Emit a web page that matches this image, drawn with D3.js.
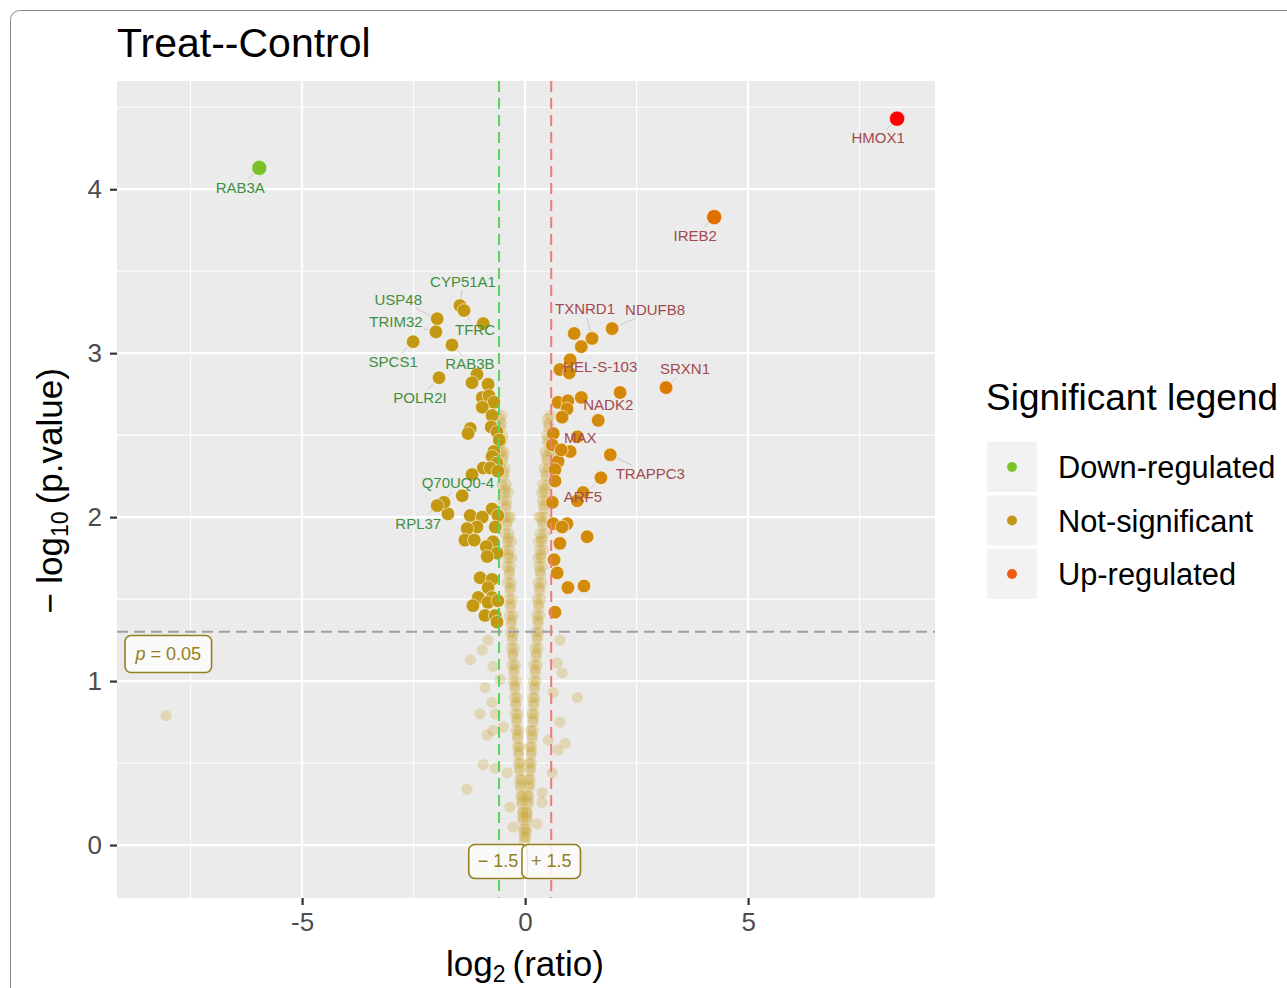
<!DOCTYPE html>
<html lang="en">
<head>
    <meta charset="UTF-8">
    <title>volcano</title>
    <script type="application/javascript" src="https://d3js.org/d3.v7.min.js"></script>
    <style>
        body{
            margin: 0;
            background: #fff;
        }
        svg text{
            font-family: "Liberation Sans", Arial, Helvetica, sans-serif;
        }
    </style>
</head>
<body>
<svg id="chart"></svg>
</body>
<script type="application/javascript">
    var width = 1287;
    var height = 988;

    // labelled genes
    var geneNames = ['RAB3A', 'HMOX1', 'IREB2', 'CYP51A1', 'USP48', 'TRIM32', 'TFRC', 'SPCS1', 'RAB3B', 'POLR2I',
        'Q70UQ0-4', 'RPL37', 'TXNRD1', 'NDUFB8', 'HEL-S-103', 'SRXN1', 'NADK2', 'MAX', 'TRAPPC3', 'ARF5'];
    var geneLog2 = [-5.96, 8.34, 4.24, -1.46, -1.97, -2.00, -1.37, -2.51, -1.64, -1.93,
        -1.82, -1.97, 1.50, 1.95, 1.01, 3.16, 1.64, 0.81, 1.91, 1.70];
    var geneLogP = [4.13, 4.43, 3.83, 3.29, 3.21, 3.13, 3.26, 3.07, 3.05, 2.85,
        2.09, 2.07, 3.09, 3.15, 2.96, 2.79, 2.59, 2.41, 2.38, 2.24];

    // other points with p < 0.05 (log2 ratio, -log10 p)
    var sigPoints = [
        [-0.94, 3.18], [-1.08, 2.87], [-1.19, 2.82], [-0.83, 2.81], [-0.96, 2.73], [-0.81, 2.74],
        [-0.70, 2.70], [-0.96, 2.67], [-0.74, 2.62], [-1.23, 2.54], [-1.28, 2.51], [-0.76, 2.55],
        [-0.63, 2.52], [-0.58, 2.47], [-0.70, 2.40], [-0.74, 2.37], [-0.63, 2.33], [-0.94, 2.30],
        [-0.78, 2.30], [-0.61, 2.28], [-1.19, 2.26], [-1.41, 2.13], [-1.73, 2.02], [-0.74, 2.05],
        [-1.23, 2.01], [-0.96, 2.00], [-0.61, 2.01], [-1.08, 1.94], [-1.30, 1.93], [-0.67, 1.94],
        [-1.35, 1.86], [-1.14, 1.86], [-0.72, 1.85], [-0.87, 1.82], [-0.63, 1.78], [-0.85, 1.76],
        [-1.01, 1.63], [-0.74, 1.62], [-0.83, 1.57], [-1.05, 1.51], [-0.74, 1.51], [-1.17, 1.46],
        [-0.83, 1.48], [-0.61, 1.49], [-0.90, 1.40], [-0.67, 1.40], [-0.63, 1.36],
        [1.10, 3.12], [1.26, 3.04], [0.78, 2.90], [0.99, 2.88], [2.13, 2.76], [0.74, 2.70],
        [0.96, 2.71], [1.26, 2.73], [0.94, 2.66], [0.83, 2.61], [0.63, 2.51], [1.17, 2.49],
        [0.61, 2.44], [1.01, 2.40], [0.74, 2.34], [0.67, 2.29], [0.67, 2.22], [1.30, 2.15],
        [1.17, 2.10], [0.61, 2.09], [0.63, 1.96], [0.94, 1.96], [0.83, 1.94], [1.39, 1.88],
        [0.78, 1.84], [0.65, 1.74], [0.72, 1.66], [0.96, 1.57], [1.32, 1.58], [0.67, 1.42]
    ];

    // faint cloud of non significant proteins
    var cloudPoints = [
        [-0.57, 2.60], [-0.52, 2.62], [-0.55, 2.55], [-0.60, 2.50], [-0.50, 2.50], [-0.56, 2.45],
        [-0.53, 2.40], [-0.47, 2.40], [-0.60, 2.40], [-0.50, 2.35], [-0.55, 2.30], [-0.45, 2.30],
        [-0.48, 2.25], [-0.52, 2.20], [-0.42, 2.20], [-0.46, 2.15], [-0.38, 2.15], [-0.50, 2.10],
        [-0.41, 2.10], [-0.44, 2.05], [-0.47, 2.00], [-0.38, 2.00], [-0.33, 2.00], [-0.42, 1.95],
        [-0.45, 1.90], [-0.36, 1.90], [-0.40, 1.85], [-0.31, 1.85], [-0.43, 1.80], [-0.35, 1.80],
        [-0.38, 1.75], [-0.30, 1.75], [-0.41, 1.70], [-0.33, 1.70], [-0.36, 1.65], [-0.39, 1.60],
        [-0.31, 1.60], [-0.34, 1.55], [-0.37, 1.50], [-0.29, 1.50], [-0.33, 1.45], [-0.35, 1.40],
        [-0.27, 1.40], [-0.31, 1.35], [-0.33, 1.30], [-0.26, 1.30], [-0.29, 1.25], [-0.31, 1.20],
        [-0.24, 1.20], [-0.27, 1.15], [-0.29, 1.10], [-0.22, 1.10], [-0.25, 1.05], [-0.27, 1.00],
        [-0.20, 1.00], [-0.23, 0.95], [-0.24, 0.90], [-0.18, 0.90], [-0.21, 0.85], [-0.22, 0.80],
        [-0.16, 0.80], [-0.19, 0.75], [-0.20, 0.70], [-0.14, 0.70], [-0.17, 0.65], [-0.17, 0.60],
        [-0.12, 0.60], [-0.14, 0.55], [-0.15, 0.50], [-0.10, 0.50], [-0.12, 0.45], [-0.12, 0.40],
        [-0.08, 0.40], [-0.10, 0.35], [-0.09, 0.30], [-0.06, 0.30], [-0.07, 0.25], [-0.06, 0.20],
        [-0.04, 0.20], [-0.05, 0.15], [-0.03, 0.10], [-0.02, 0.05], [-0.01, 0.02],
        [-0.53, 2.57], [-0.51, 2.47], [-0.49, 2.37], [-0.47, 2.27], [-0.45, 2.17], [-0.42, 2.07],
        [-0.40, 1.97], [-0.38, 1.87], [-0.37, 1.77], [-0.35, 1.67], [-0.33, 1.57], [-0.32, 1.47],
        [-0.30, 1.37], [-0.28, 1.27], [-0.27, 1.17], [-0.25, 1.07], [-0.23, 0.97], [-0.21, 0.87],
        [-0.19, 0.77], [-0.17, 0.67], [-0.15, 0.57], [-0.13, 0.47], [-0.11, 0.37], [-0.08, 0.27],
        [-0.06, 0.17], [-0.03, 0.08],
        [0.56, 2.62], [0.50, 2.60], [0.53, 2.55], [0.58, 2.50], [0.48, 2.50], [0.52, 2.45],
        [0.55, 2.40], [0.45, 2.40], [0.59, 2.40], [0.49, 2.35], [0.53, 2.30], [0.43, 2.30],
        [0.47, 2.25], [0.50, 2.20], [0.40, 2.20], [0.45, 2.15], [0.37, 2.15], [0.48, 2.10],
        [0.39, 2.10], [0.43, 2.05], [0.45, 2.00], [0.36, 2.00], [0.31, 2.00], [0.40, 1.95],
        [0.43, 1.90], [0.34, 1.90], [0.38, 1.85], [0.30, 1.85], [0.41, 1.80], [0.33, 1.80],
        [0.36, 1.75], [0.29, 1.75], [0.39, 1.70], [0.31, 1.70], [0.35, 1.65], [0.37, 1.60],
        [0.29, 1.60], [0.33, 1.55], [0.35, 1.50], [0.27, 1.50], [0.31, 1.45], [0.33, 1.40],
        [0.26, 1.40], [0.29, 1.35], [0.31, 1.30], [0.24, 1.30], [0.27, 1.25], [0.29, 1.20],
        [0.22, 1.20], [0.25, 1.15], [0.27, 1.10], [0.20, 1.10], [0.23, 1.05], [0.25, 1.00],
        [0.19, 1.00], [0.21, 0.95], [0.22, 0.90], [0.17, 0.90], [0.19, 0.85], [0.20, 0.80],
        [0.15, 0.80], [0.18, 0.75], [0.18, 0.70], [0.13, 0.70], [0.16, 0.65], [0.15, 0.60],
        [0.11, 0.60], [0.13, 0.55], [0.14, 0.50], [0.09, 0.50], [0.11, 0.45], [0.11, 0.40],
        [0.07, 0.40], [0.09, 0.35], [0.08, 0.30], [0.05, 0.30], [0.07, 0.25], [0.05, 0.20],
        [0.03, 0.20], [0.04, 0.15], [0.03, 0.10], [0.02, 0.05],
        [0.52, 2.57], [0.50, 2.47], [0.48, 2.37], [0.46, 2.27], [0.43, 2.17], [0.41, 2.07],
        [0.39, 1.97], [0.37, 1.87], [0.35, 1.77], [0.33, 1.67], [0.32, 1.57], [0.30, 1.47],
        [0.29, 1.37], [0.27, 1.27], [0.25, 1.17], [0.23, 1.07], [0.21, 0.97], [0.20, 0.87],
        [0.18, 0.77], [0.16, 0.67], [0.14, 0.57], [0.12, 0.47], [0.10, 0.37], [0.07, 0.27],
        [0.05, 0.17], [0.03, 0.08],
        [-1.23, 1.13], [-0.90, 0.96], [-1.01, 0.80], [-0.74, 0.87], [-0.72, 0.70], [-0.85, 0.67],
        [-1.30, 0.34], [-0.94, 0.49], [-0.67, 0.47], [0.78, 1.25], [0.72, 1.11], [1.17, 0.90],
        [0.83, 1.05], [0.63, 0.93], [0.78, 0.75], [0.90, 0.62], [0.74, 0.58], [0.61, 0.44],
        [0.38, 0.32], [0.52, 0.64], [-0.72, 1.09], [-0.56, 1.01], [-0.67, 0.80], [-0.49, 0.72],
        [-0.40, 0.44], [-0.34, 0.23], [0.38, 0.26], [-0.27, 0.11], [0.27, 0.13], [-0.83, 1.25],
        [-0.96, 1.19], [-8.05, 0.79]
    ];

    var xTicks = [-5, 0, 5];
    var xMinor = [-7.5, -2.5, 2.5, 7.5];
    var yTicks = [0, 1, 2, 3, 4];
    var yMinor = [0.5, 1.5, 2.5, 3.5, 4.5];
    var fcCut = 0.585;      // log2(1.5)
    var pCut = 1.301;       // -log10(0.05)
    var legendLabels = ['Down-regulated', 'Not-significant', 'Up-regulated'];

    // label offsets in px (ggrepel look)
    var labelOffsets = {
        'RAB3A': [-19, 20], 'HMOX1': [-19, 19], 'IREB2': [-19, 19], 'CYP51A1': [3, -24],
        'USP48': [-39, -19], 'TRIM32': [-40, -10], 'TFRC': [11, 19], 'SPCS1': [-20, 20],
        'RAB3B': [18, 19], 'POLR2I': [-19, 20], 'Q70UQ0-4': [14, -19], 'RPL37': [-19, 18],
        'TXNRD1': [-7, -29], 'NDUFB8': [43, -19], 'HEL-S-103': [30, 7], 'SRXN1': [19, -19],
        'NADK2': [10, -15], 'MAX': [19, -12], 'TRAPPC3': [40, 19], 'ARF5': [-18, 19]
    };

    var svg = d3.select('#chart')
        .attr('width', width)
        .attr('height', height);

    var panel = {left: 117, right: 935, top: 81, bottom: 898};

    var x = d3.scaleLinear().domain([-9.15, 9.19]).range([panel.left, panel.right]);
    var y = d3.scaleLinear().domain([-0.323, 4.66]).range([panel.bottom, panel.top]);

    // colour by log2 ratio
    var color = d3.scaleLinear()
        .domain([-6, -2.7, -0.5, 0.5, 1.6, 4.2, 8.3])
        .range(['#7cc22a', '#c39812', '#c39812', '#d08c0c', '#d48a0a', '#e07000', '#ff0000']);

    // outer frame
    svg.append('rect')
        .attr('x', 10.5).attr('y', 10.5)
        .attr('width', 1320).attr('height', 1020)
        .attr('rx', 9)
        .attr('fill', 'none')
        .attr('stroke', '#8a8a8a')
        .attr('stroke-width', 1);

    svg.append('rect')
        .attr('x', panel.left).attr('y', panel.top)
        .attr('width', panel.right - panel.left)
        .attr('height', panel.bottom - panel.top)
        .attr('fill', '#ebebeb');

    var grid = svg.append('g');
    grid.selectAll('.vmin').data(xMinor).enter().append('line')
        .attr('x1', d => x(d)).attr('x2', d => x(d))
        .attr('y1', panel.top).attr('y2', panel.bottom)
        .attr('stroke', '#fff').attr('stroke-width', 1.1);
    grid.selectAll('.hmin').data(yMinor).enter().append('line')
        .attr('y1', d => y(d)).attr('y2', d => y(d))
        .attr('x1', panel.left).attr('x2', panel.right)
        .attr('stroke', '#fff').attr('stroke-width', 1.1);
    grid.selectAll('.vmaj').data(xTicks).enter().append('line')
        .attr('x1', d => x(d)).attr('x2', d => x(d))
        .attr('y1', panel.top).attr('y2', panel.bottom)
        .attr('stroke', '#fff').attr('stroke-width', 2.2);
    grid.selectAll('.hmaj').data(yTicks).enter().append('line')
        .attr('y1', d => y(d)).attr('y2', d => y(d))
        .attr('x1', panel.left).attr('x2', panel.right)
        .attr('stroke', '#fff').attr('stroke-width', 2.2);

    // faint cloud
    svg.append('g')
        .selectAll('circle')
        .data(cloudPoints)
        .enter()
        .append('circle')
        .attr('cx', d => x(d[0]))
        .attr('cy', d => y(d[1]))
        .attr('r', 5.6)
        .attr('fill', '#cba638')
        .attr('fill-opacity', 0.3);

    // significant points
    svg.append('g')
        .selectAll('circle')
        .data(sigPoints)
        .enter()
        .append('circle')
        .attr('cx', d => x(d[0]))
        .attr('cy', d => y(d[1]))
        .attr('r', 6.8)
        .attr('fill', d => color(d[0]))
        .attr('stroke', '#fff')
        .attr('stroke-opacity', 0.7)
        .attr('stroke-width', 0.8);

    var genes = geneNames.map(function (n, i) {
        return {name: n, lx: geneLog2[i], ly: geneLogP[i]};
    });

    svg.append('g')
        .selectAll('circle')
        .data(genes)
        .enter()
        .append('circle')
        .attr('cx', d => x(d.lx))
        .attr('cy', d => y(d.ly))
        .attr('r', d => Math.abs(d.lx) > 4 ? 7.6 : 6.8)
        .attr('fill', d => color(d.lx))
        .attr('stroke', '#fff')
        .attr('stroke-opacity', 0.7)
        .attr('stroke-width', 0.8);

    // threshold lines
    svg.append('line')
        .attr('x1', x(-fcCut)).attr('x2', x(-fcCut))
        .attr('y1', panel.top).attr('y2', panel.bottom)
        .attr('stroke', '#5dd25d').attr('stroke-width', 2)
        .attr('stroke-dasharray', '11,6');
    svg.append('line')
        .attr('x1', x(fcCut)).attr('x2', x(fcCut))
        .attr('y1', panel.top).attr('y2', panel.bottom)
        .attr('stroke', '#f07a7a').attr('stroke-width', 2)
        .attr('stroke-dasharray', '11,6');
    svg.append('line')
        .attr('x1', panel.left).attr('x2', panel.right)
        .attr('y1', y(pCut)).attr('y2', y(pCut))
        .attr('stroke', '#a0a0a0').attr('stroke-width', 2)
        .attr('stroke-dasharray', '11,6');

    // gene labels with short leader segments
    var lab = svg.append('g');
    genes.forEach(function (d) {
        var px = x(d.lx), py = y(d.ly);
        var off = labelOffsets[d.name];
        var tx = px + off[0], ty = py + off[1];
        var t = lab.append('text')
            .attr('x', tx).attr('y', ty + 5)
            .attr('text-anchor', 'middle')
            .attr('font-size', 15)
            .attr('fill', d.lx < 0 ? '#3f8f3f' : '#a34a4e')
            .text(d.name);
        var b = t.node().getBBox();
        // find where the segment meets the label box
        var dx = px - tx, dy = py - ty;
        var s = Math.min(Math.abs((b.width / 2 + 1) / (dx || 1e-6)), Math.abs((b.height / 2) / (dy || 1e-6)));
        var ex = tx + dx * s, ey = ty + dy * s;
        var len = Math.hypot(px - ex, py - ey);
        if (s < 1 && len > 10) {
            var ux = (ex - px) / len, uy = (ey - py) / len;
            lab.insert('line', 'text')
                .attr('x1', px + ux * 7.5).attr('y1', py + uy * 7.5)
                .attr('x2', ex).attr('y2', ey)
                .attr('stroke', '#c8c8c8').attr('stroke-width', 1);
        }
    });

    // boxed threshold labels
    function boxLabel(cx, cy, parts, padX, h) {
        var g = svg.append('g');
        var t = g.append('text')
            .attr('x', cx).attr('y', cy + 6)
            .attr('text-anchor', 'middle')
            .attr('font-size', 18)
            .attr('fill', '#94801c');
        parts.forEach(function (p) {
            t.append('tspan').attr('font-style', p[1] ? 'italic' : null).text(p[0]);
        });
        var b = t.node().getBBox();
        g.insert('rect', 'text')
            .attr('x', cx - b.width / 2 - padX).attr('y', cy - h / 2)
            .attr('width', b.width + 2 * padX).attr('height', h)
            .attr('rx', 6)
            .attr('fill', '#fdfdfd').attr('fill-opacity', 0.85)
            .attr('stroke', '#94801c').attr('stroke-width', 1.6);
    }
    boxLabel(x(-8.0), y(1.165), [['p', true], [' = 0.05', false]], 10, 37);
    boxLabel(x(-fcCut) - 1, y(-0.1), [['\u2212 1.5', false]], 9, 34);
    boxLabel(x(fcCut), y(-0.1), [['+ 1.5', false]], 9, 34);

    // axes
    var xAxis = svg.append('g')
        .attr('transform', 'translate(0,' + panel.bottom + ')')
        .call(d3.axisBottom(x).tickValues(xTicks).tickSize(7).tickPadding(8));
    var yAxis = svg.append('g')
        .attr('transform', 'translate(' + panel.left + ',0)')
        .call(d3.axisLeft(y).tickValues(yTicks).tickSize(7).tickPadding(8).tickFormat(d3.format('d')));
    [xAxis, yAxis].forEach(function (a) {
        a.select('.domain').remove();
        a.selectAll('line').attr('stroke', '#333').attr('stroke-width', 2.2);
        a.selectAll('text')
            .attr('font-size', 26)
            .attr('fill', '#4d4d4d')
            .style('font-family', '"Liberation Sans", Arial, sans-serif');
    });
    xAxis.selectAll('text').text(d => d < 0 ? '-' + Math.abs(d) : d);

    // title
    svg.append('text')
        .attr('x', 117).attr('y', 57)
        .attr('font-size', 41)
        .attr('fill', '#000')
        .text('Treat--Control');

    // x axis title
    var xt = svg.append('text')
        .attr('x', 525).attr('y', 976)
        .attr('text-anchor', 'middle')
        .attr('font-size', 35)
        .attr('fill', '#000');
    xt.append('tspan').text('log');
    xt.append('tspan').attr('font-size', 23).attr('dy', 6).text('2');
    xt.append('tspan').attr('dy', -6).text('\u2009(ratio)');

    // y axis title
    var yt = svg.append('text')
        .attr('transform', 'translate(62,491) rotate(-90)')
        .attr('text-anchor', 'middle')
        .attr('font-size', 35)
        .attr('fill', '#000');
    yt.append('tspan').text('\u2212 log');
    yt.append('tspan').attr('font-size', 23).attr('dy', 6).text('10');
    yt.append('tspan').attr('dy', -6).text('\u2009(p.value)');

    // legend
    var legendColors = ['#7dc42b', '#c4961a', '#ee5a10'];
    var legend = svg.append('g');
    legend.append('text')
        .attr('x', 986).attr('y', 410)
        .attr('font-size', 37)
        .attr('fill', '#000')
        .text('Significant legend');
    legendLabels.forEach(function (l, i) {
        var top = 442 + i * 53.5;
        legend.append('rect')
            .attr('x', 987).attr('y', top)
            .attr('width', 50).attr('height', 50)
            .attr('fill', '#f2f2f2');
        legend.append('circle')
            .attr('cx', 1012).attr('cy', top + 25)
            .attr('r', 5)
            .attr('fill', legendColors[i]);
        legend.append('text')
            .attr('x', 1058).attr('y', top + 36)
            .attr('font-size', 30.8)
            .attr('fill', '#000')
            .text(l);
    });
</script>
</html>
